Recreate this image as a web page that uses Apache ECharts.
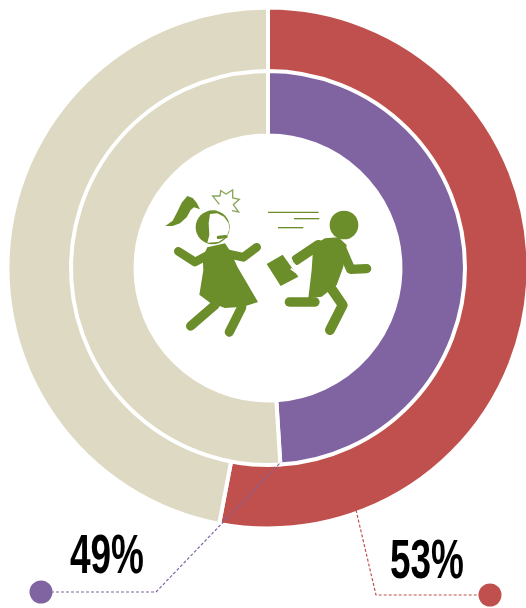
<!DOCTYPE html>
<html><head><meta charset="utf-8">
<style>html,body{margin:0;padding:0;background:#fff}#c{width:526px;height:608px}</style>
<script src="https://cdn.jsdelivr.net/npm/echarts@6/dist/echarts.min.js"></script>
</head><body><div id="c"></div>
<script>
const outerValues = [53, 47];
const innerValues = [49, 51];
const outerColors = ['#C0504D', '#DDD9C3'];
const innerColors = ['#8064A2', '#DDD9C3'];
const green = '#6B8E2B';

const limb = (points, w) => ({type:'polyline', shape:{points}, style:{stroke:green, lineWidth:w, fill:null, lineCap:'round', lineJoin:'round'}});
const thin = (points, w) => ({type:'polyline', shape:{points}, style:{stroke:green, lineWidth:w, fill:null}});
const icon = {
  type:'group', x:130, y:170, scaleX:1/3, scaleY:1/3, silent:true,
  children:[
    // ponytail
    {type:'polygon', shape:{points:[[106,168],[128,152],[142,125],[155,98],[172,78],[188,84],[200,98],[210,118],[192,112],[182,120],[170,142],[150,160],[128,168]]}, style:{fill:green}},
    // girl head
    {type:'circle', shape:{cx:248, cy:172, r:51}, style:{fill:green}},
    {type:'polygon', shape:{points:[[240,132],[262,130],[282,140],[296,160],[298,178],[290,200],[265,216],[232,218],[238,195],[236,160]]}, style:{fill:'#fff'}},
    {type:'polyline', shape:{points:[[265,202],[288,200]]}, style:{stroke:green, lineWidth:10, fill:null, lineCap:'round'}},
    // star
    {type:'polyline', shape:{points:[[268,103],[248,78],[270,78],[272,62],[288,72],[308,60],[308,84],[328,88],[310,104],[326,126],[306,122]]}, style:{stroke:'#8aa65a', lineWidth:4, fill:null}},
    // girl body
    {type:'polygon', shape:{points:[[232,232],[285,220],[302,245],[322,290],[384,396],[340,410],[285,414],[240,398],[208,374],[220,300],[218,262]]}, style:{fill:green}},
    limb([[145,244],[195,276],[240,252]],26),
    limb([[285,250],[340,262],[380,232]],26),
    limb([[255,405],[182,468]],28),
    limb([[335,412],[298,486]],28),
    // speed lines
    thin([[414,127],[566,127]],4),
    thin([[492,146],[568,146]],4),
    thin([[444,173],[520,173]],4),
    // boy head
    {type:'circle', shape:{cx:642, cy:165, r:43}, style:{fill:green}},
    // boy body
    {type:'polygon', shape:{points:[[550,225],[585,205],[625,202],[650,225],[640,290],[620,345],[575,380],[535,385],[545,300]]}, style:{fill:green}},
    limb([[498,270],[565,225]],30),
    limb([[635,235],[662,298],[710,296]],28),
    limb([[555,396],[478,396]],28),
    limb([[600,350],[638,405],[600,480]],30),
    // briefcase
    {type:'polygon', shape:{points:[[410,282],[458,254],[505,320],[452,348]]}, style:{fill:green}},
    {type:'polyline', shape:{points:[[468,262],[480,258],[488,278],[502,292],[496,306],[482,296]]}, style:{stroke:'#fff', lineWidth:5, fill:null}}
  ]
};

const pct = (values) => values[0] + '%';
const bigText = (text, x, y) => ({
  type:'text', x, y, scaleX:0.66, silent:true, z:10,
  style:{text, fontFamily:'Liberation Sans', fontWeight:'bold', fontSize:56, fill:'#000', align:'left', verticalAlign:'top'}
});
const dash = (points, stroke) => ({type:'polyline', shape:{points}, z:10, silent:true, style:{stroke, lineWidth:1.2, lineDash:[3,2], fill:null}});
const dot = (cx, cy, fill) => ({type:'circle', shape:{cx, cy, r:11.5}, z:10, silent:true, style:{fill}});

const ring = (values, colors, radius) => ({
  type:'pie', center:[268,268], radius, startAngle:90, clockwise:true, silent:true,
  label:{show:false}, labelLine:{show:false}, animation:false,
  itemStyle:{borderColor:'#fff', borderWidth:4},
  data: values.map((v,i)=>({value:v, itemStyle:{color:colors[i]}}))
});

const chart = echarts.init(document.getElementById('c'), null, {renderer:'canvas'});
chart.setOption({
  animation:false,
  backgroundColor:'#fff',
  series:[ ring(outerValues, outerColors, [196, 260.5]), ring(innerValues, innerColors, [132.5, 197]) ],
  graphic:[
    icon,
    dash([[51,592],[156,592],[281,462]], '#8064A2'),
    dash([[356,510],[376,595],[480,595]], '#C0504D'),
    dot(41,592,'#8064A2'),
    dot(490,595,'#C0504D'),
    bigText(pct(innerValues), 70, 530),
    bigText(pct(outerValues), 390, 535)
  ]
});
</script></body></html>
